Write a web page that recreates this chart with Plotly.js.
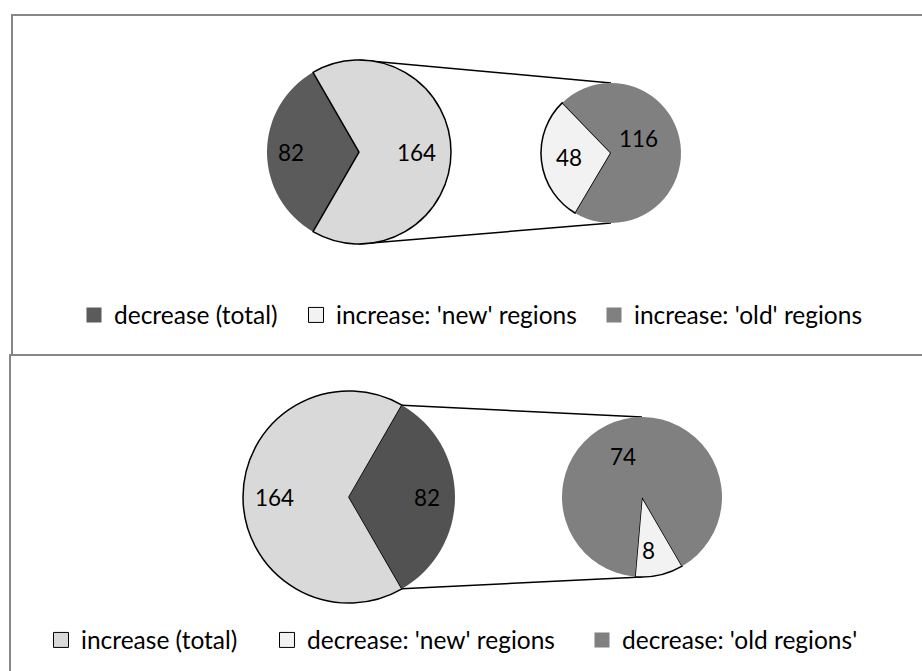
<!DOCTYPE html>
<html><head><meta charset="utf-8">
<script src="https://cdn.plot.ly/plotly-3.0.1.min.js"></script>
<style>html,body{margin:0;padding:0;background:#fff}#chart{width:922px;height:671px}</style>
</head><body><div id="chart"></div>
<script>
// ---- data ----
const topBigLabels = ["decrease (total)", "increase (total)"];
const topBigValues = [82, 164];
const topSmallLabels = ["increase: 'new' regions", "increase: 'old' regions"];
const topSmallValues = [48, 116];
const botBigLabels = ["increase (total)", "decrease (total)"];
const botBigValues = [164, 82];
const botSmallLabels = ["decrease: 'new' regions", "decrease: 'old regions'"];
const botSmallValues = [8, 74];
const topLegendLabels = ["decrease (total)", "increase: 'new' regions", "increase: 'old' regions"];
const botLegendLabels = ["increase (total)", "decrease: 'new' regions", "decrease: 'old regions'"];

// ---- layout / style ----
const W = 922, H = 671;
const FONT = "Lato, 'Open Sans', sans-serif";
const FS_LEG = 24.5, FS_LBL = 22.5;
// start: math angle (deg, CCW from 3 o'clock) where the first slice begins
// lbl: per-slice label placement (radial fraction f, angular nudge d in degrees)
const geo = {
  topBig:   {cx: 359, cy: 152, r: 92, start: 120, lbl: [{f: 0.74, d: 0}, {f: 0.63, d: 0}]},
  topSmall: {cx: 611, cy: 153, r: 70, start: 134, lbl: [{f: 0.61, d: 0}, {f: 0.44, d: 22}]},
  botBig:   {cx: 349, cy: 497, r: 106, start: 60, lbl: [{f: 0.70, d: 0}, {f: 0.74, d: 0}]},
  botSmall: {cx: 642, cy: 497, r: 80, start: 265, lbl: [{f: 0.67, d: -6}, {f: 0.56, d: 13}]}
};
const px = x => x / W, py = y => 1 - y / H;
function dom(g) { return {x: [px(g.cx - g.r), px(g.cx + g.r)], y: [py(g.cy + g.r), py(g.cy - g.r)]}; }
const sum = a => a.reduce((s, v) => s + v, 0);
const rad = d => d * Math.PI / 180;

const layout = {
  width: W, height: H, margin: {l: 0, r: 0, t: 0, b: 0},
  paper_bgcolor: '#fff', plot_bgcolor: '#fff',
  xaxis: {visible: false, range: [0, 1]}, yaxis: {visible: false, range: [0, 1]},
  font: {family: FONT, size: FS_LEG, color: '#000'},
  shapes: [], annotations: []
};

function pie(labels, values, g, colors, lw) {
  const total = sum(values);
  const span1 = 360 * values[0] / total;
  // value labels placed inside each slice, at its mid angle
  let a = g.start;
  values.forEach((v, i) => {
    const span = 360 * v / total;
    const mid = a + span / 2 + g.lbl[i].d;
    const rr = g.r * g.lbl[i].f;
    layout.annotations.push({
      xref: 'paper', yref: 'paper', showarrow: false,
      x: px(g.cx + rr * Math.cos(rad(mid))), y: py(g.cy - rr * Math.sin(rad(mid))),
      xanchor: 'center', yanchor: 'middle', text: String(v),
      font: {family: FONT, size: FS_LBL, color: '#000'}
    });
    a += span;
  });
  return {
    type: 'pie', labels: labels, values: values, sort: false, direction: 'counterclockwise',
    rotation: 90 - g.start - span1, domain: dom(g), showlegend: false, hoverinfo: 'none',
    textinfo: 'none',
    marker: {colors: colors, line: {color: '#000', width: lw}}
  };
}

const traces = [
  pie(topBigLabels, topBigValues, geo.topBig, ['#5b5b5b', '#d9d9d9'], [0, 1.5]),
  pie(topSmallLabels, topSmallValues, geo.topSmall, ['#f2f2f2', '#808080'], [1.5, 0]),
  pie(botBigLabels, botBigValues, geo.botBig, ['#d9d9d9', '#525252'], [1.5, 0]),
  pie(botSmallLabels, botSmallValues, geo.botSmall, ['#f2f2f2', '#808080'], [1.5, 0])
];

// legend entries
const legStyles = [
  {labels: topLegendLabels, colors: ['#5b5b5b', '#f2f2f2', '#808080'], lw: [0, 1, 0], textX: [112, 334, 632], y: 315},
  {labels: botLegendLabels, colors: ['#d9d9d9', '#f2f2f2', '#808080'], lw: [1, 1, 0], textX: [79, 305, 620], y: 640}
];
let li = 1;
legStyles.forEach(ls => {
  ls.labels.forEach((lab, i) => {
    const key = li === 1 ? 'legend' : 'legend' + li;
    traces.push({
      type: 'scatter', mode: 'markers', x: [null], y: [null], name: lab,
      legend: key, showlegend: true, hoverinfo: 'none',
      marker: {symbol: 'square', size: 15, color: ls.colors[i], line: {color: '#000', width: ls.lw[i]}}
    });
    layout[key] = {
      x: px(ls.textX[i] - 38), xanchor: 'left', y: py(ls.y), yanchor: 'middle',
      orientation: 'h', bgcolor: 'rgba(0,0,0,0)', borderwidth: 0,
      font: {family: FONT, size: FS_LEG, color: '#000'}, itemclick: false, itemdoubleclick: false
    };
    li++;
  });
});

// connector lines computed from pie geometry and values
function connectors(big, vals, small) {
  const total = sum(vals);
  const span1 = 360 * vals[0] / total;
  const spanOther = 360 - span1;              // the last slice is the one split into the small pie
  const a0 = big.start + span1, a1 = a0 + spanOther;
  let pTop, pBot;
  if (spanOther >= 180) {
    pTop = [big.cx, big.cy - big.r]; pBot = [big.cx, big.cy + big.r];
  } else {
    const P = d => [big.cx + big.r * Math.cos(rad(d)), big.cy - big.r * Math.sin(rad(d))];
    const A = P(a0), B = P(a1);
    pTop = A[1] < B[1] ? A : B; pBot = A[1] < B[1] ? B : A;
  }
  const sTop = [small.cx, small.cy - small.r], sBot = [small.cx, small.cy + small.r];
  return [[pTop, sTop], [pBot, sBot]].map(s => ({
    type: 'line', xref: 'paper', yref: 'paper', layer: 'below',
    x0: px(s[0][0]), y0: py(s[0][1]), x1: px(s[1][0]), y1: py(s[1][1]),
    line: {color: '#000', width: 1.5}
  }));
}
layout.shapes.push(...connectors(geo.topBig, topBigValues, geo.topSmall));
layout.shapes.push(...connectors(geo.botBig, botBigValues, geo.botSmall));
// chart area frames
layout.shapes.push({type: 'rect', xref: 'paper', yref: 'paper', x0: px(12), x1: px(930), y0: py(355), y1: py(15), line: {color: '#868686', width: 2}});
layout.shapes.push({type: 'rect', xref: 'paper', yref: 'paper', x0: px(10), x1: px(930), y0: py(680), y1: py(355), line: {color: '#868686', width: 2}});

Plotly.newPlot('chart', traces, layout, {staticPlot: true, displayModeBar: false});
</script></body></html>
